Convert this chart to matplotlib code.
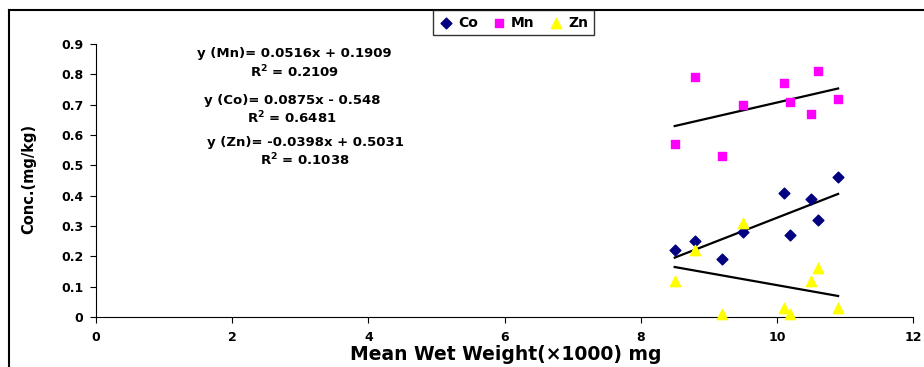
import matplotlib.pyplot as plt
import numpy as np
from matplotlib.lines import Line2D

plt.rcParams['font.family'] = ['DejaVu Sans']
plt.rcParams['font.weight'] = 'bold'

# mean wet weight (x1000 mg)
weight = [8.5, 8.8, 9.2, 9.5, 10.1, 10.2, 10.5, 10.6, 10.9]
co = [0.22, 0.25, 0.19, 0.28, 0.41, 0.27, 0.39, 0.32, 0.46]
mn = [0.57, 0.79, 0.53, 0.70, 0.77, 0.71, 0.67, 0.81, 0.72]
zn = [0.12, 0.22, 0.01, 0.31, 0.03, 0.01, 0.12, 0.16, 0.03]

# trendline coefficients (slope, intercept) as printed on the chart
fit_mn = (0.0516, 0.1909)
fit_co = (0.0875, -0.548)
fit_zn = (-0.0398, 0.5031)

eq_texts = [
    ("y (Mn)= 0.0516x + 0.1909", "R$^\\mathbf{2}$ = 0.2109", 2.92, 0.870, 0.808),
    ("y (Co)= 0.0875x - 0.548", "R$^\\mathbf{2}$ = 0.6481", 2.88, 0.715, 0.656),
    ("y (Zn)= -0.0398x + 0.5031", "R$^\\mathbf{2}$ = 0.1038", 3.07, 0.574, 0.518),
]

fig = plt.figure(figsize=(9.24, 3.67), dpi=100)
ax = fig.add_axes([96 / 924, 1 - 317 / 367, (913 - 96) / 924, (317 - 44) / 367])

ax.scatter(weight, co, marker='D', s=30, color='#000080', label='Co', zorder=3, clip_on=False)
ax.scatter(weight, mn, marker='s', s=36, color='#FF00FF', label='Mn', zorder=3, clip_on=False)
ax.scatter(weight, zn, marker='^', s=55, color='#FFFF00', label='Zn', zorder=3, clip_on=False)

xs = np.array([min(weight), max(weight)])
for k, b in (fit_mn, fit_co, fit_zn):
    ax.plot(xs, k * xs + b, color='black', lw=1.6, zorder=2)

for eq, r2, x, y1, y2 in eq_texts:
    ax.text(x, y1, eq, ha='center', va='center', fontsize=9.5, fontweight='bold')
    ax.text(x, y2, r2, ha='center', va='center', fontsize=9.5, fontweight='bold')

ax.set_xlim(0, 12)
ax.set_ylim(0, 0.9)
ax.set_xticks(np.arange(0, 13, 2))
ax.set_yticks(np.arange(0, 0.91, 0.1))
ax.set_yticklabels(['0'] + ['%.1f' % v for v in np.arange(0.1, 0.91, 0.1)])
ax.tick_params(axis='both', direction='out', labelsize=9, length=4, width=0.8)
ax.tick_params(axis='x', pad=6)
ax.tick_params(axis='y', pad=5)
for lbl in ax.get_xticklabels() + ax.get_yticklabels():
    lbl.set_fontweight('bold')
ax.spines['top'].set_visible(False)
ax.spines['right'].set_visible(False)

fig.text(506 / 924, 1 - 355 / 367, "Mean Wet Weight(\u00d71000) mg", ha='center', va='center',
         fontsize=13.5, fontweight='bold')
fig.text(29 / 924, 1 - 179 / 367, "Conc.(mg/kg)", ha='center', va='center', rotation=90,
         fontsize=10.5, fontweight='bold')

leg = fig.legend(loc='upper left', bbox_to_anchor=(433 / 924, 1 - 10 / 367), ncol=3,
                 fontsize=10, frameon=True, fancybox=False, edgecolor='black',
                 handletextpad=0.4, columnspacing=1.0, handlelength=1.0, borderpad=0.4,
                 borderaxespad=0)
leg.get_frame().set_linewidth(1.0)

# outer chart frame (top and left edges visible)
fig.add_artist(Line2D([9 / 924, 1], [1 - 10 / 367, 1 - 10 / 367], color='black', lw=1.5))
fig.add_artist(Line2D([9 / 924, 9 / 924], [0, 1 - 10 / 367], color='black', lw=1.5))

fig.savefig('out.png', dpi=100)
